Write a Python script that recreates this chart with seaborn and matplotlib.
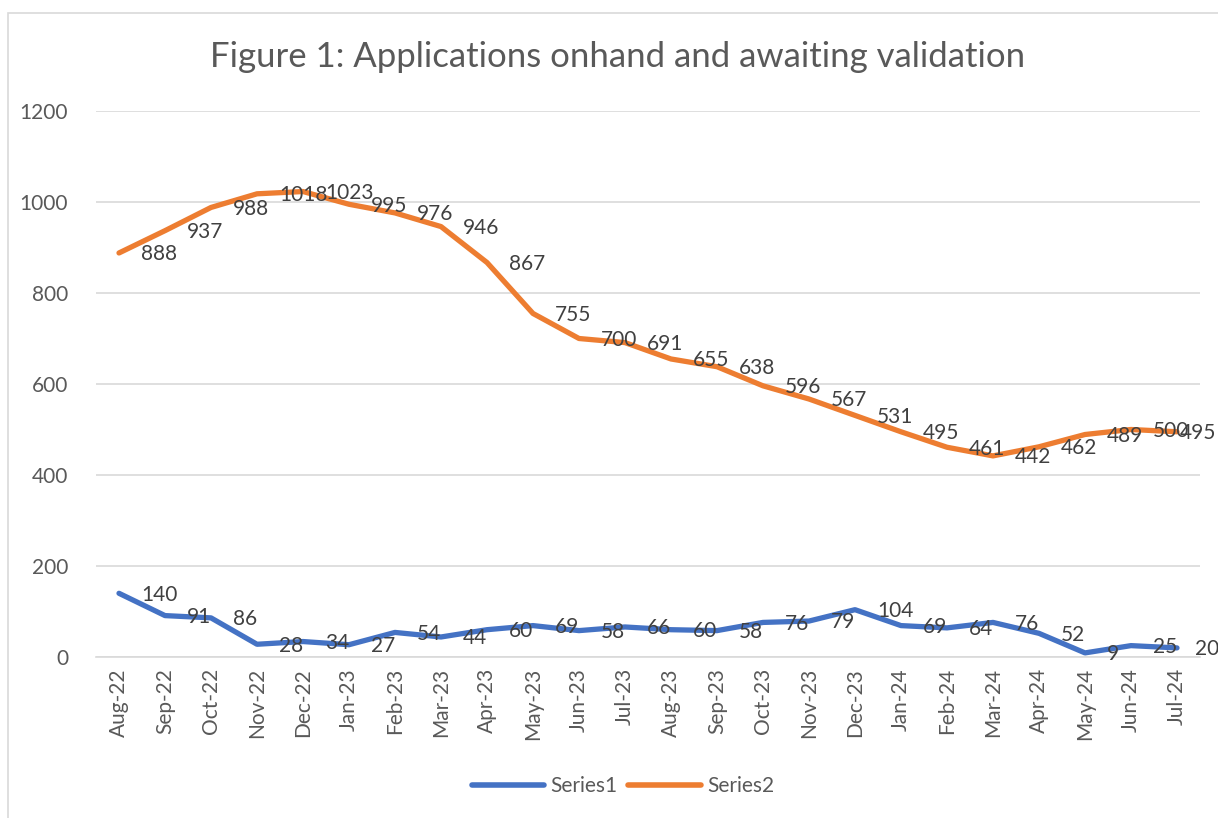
import pandas as pd
import seaborn as sns
import matplotlib.pyplot as plt
from matplotlib.patches import Rectangle

# Data
months = ["Aug-22", "Sep-22", "Oct-22", "Nov-22", "Dec-22", "Jan-23", "Feb-23", "Mar-23",
          "Apr-23", "May-23", "Jun-23", "Jul-23", "Aug-23", "Sep-23", "Oct-23", "Nov-23",
          "Dec-23", "Jan-24", "Feb-24", "Mar-24", "Apr-24", "May-24", "Jun-24", "Jul-24"]
series1 = [140, 91, 86, 28, 34, 27, 54, 44, 60, 69, 58, 66,
           60, 58, 76, 79, 104, 69, 64, 76, 52, 9, 25, 20]
series2 = [888, 937, 988, 1018, 1023, 995, 976, 946, 867, 755, 700, 691,
           655, 638, 596, 567, 531, 495, 461, 442, 462, 489, 500, 495]
yticks = [0, 200, 400, 600, 800, 1000, 1200]

sns.set_style("white")
plt.rcParams['font.family'] = ['Lato', 'DejaVu Sans']

text_col = "#595959"
colors = {"Series1": "#4472C4", "Series2": "#ED7D31"}

df = pd.DataFrame({"month": months * 2,
                   "pos": list(range(len(months))) * 2,
                   "value": series1 + series2,
                   "series": ["Series1"] * len(months) + ["Series2"] * len(months)})

fig = plt.figure(figsize=(12.18, 8.18), dpi=100)
ax = fig.add_axes([96 / 1218, 1 - 657 / 818, (1200 - 96) / 1218, (657 - 111) / 818])

# chart border like the Excel chart area
fig.patches.append(Rectangle((8 / 1218, -0.05), 1.1, 1.05 - 13 / 818, transform=fig.transFigure,
                             fill=False, edgecolor="#d9d9d9", linewidth=1.2, zorder=0))

sns.lineplot(data=df, x="pos", y="value", hue="series", palette=colors,
             linewidth=3.8, ax=ax, legend=True, sort=False)

# data labels to the right of each point (last ones pulled in to fit, like Excel does)
last = len(months) - 1
for name, vals in [("Series1", series1), ("Series2", series2)]:
    for i, v in enumerate(vals):
        dx = 16
        if i == last:
            dx = 13 if name == "Series1" else 2
        ax.annotate(str(v), (i, v), xytext=(dx, -1), textcoords="offset points",
                    ha="left", va="center", fontsize=15, color="#404040",
                    annotation_clip=False)

ax.set_xlim(-0.5, len(months) - 0.5)
ax.set_ylim(0, 1200)
ax.set_yticks(yticks)
ax.set_yticklabels([str(t) for t in yticks], fontsize=15, color=text_col)
ax.set_xticks(range(len(months)))
ax.set_xticklabels(months, rotation=90, fontsize=15, color=text_col)
ax.tick_params(axis="y", length=0, pad=20)
ax.tick_params(axis="x", which="major", length=0, pad=8)
# tick marks between categories
ax.set_xticks([i - 0.5 for i in range(len(months) + 1)], minor=True)
ax.tick_params(axis="x", which="minor", length=7, color="#d9d9d9", width=1.2)

ax.grid(axis="y", color="#d9d9d9", linewidth=1.2)
ax.set_axisbelow(True)
for s in ["top", "right", "left"]:
    ax.spines[s].set_visible(False)
ax.spines["bottom"].set_color("#d9d9d9")
ax.spines["bottom"].set_linewidth(1.2)
ax.set_xlabel("")
ax.set_ylabel("")

fig.text(618 / 1218, 1 - 57 / 818, "Figure 1: Applications onhand and awaiting validation",
         ha="center", va="center", fontsize=25, color=text_col)

handles, labels = ax.get_legend_handles_labels()
for h in handles:
    h.set_linewidth(4)
ax.legend(handles, labels, loc="center", bbox_to_anchor=(623 / 1218, 1 - 786 / 818),
          bbox_transform=fig.transFigure, ncol=2, frameon=False, fontsize=15,
          handlelength=3.5, handletextpad=0.3, columnspacing=0.5, labelcolor=text_col)

fig.savefig("out.png", dpi=100)
